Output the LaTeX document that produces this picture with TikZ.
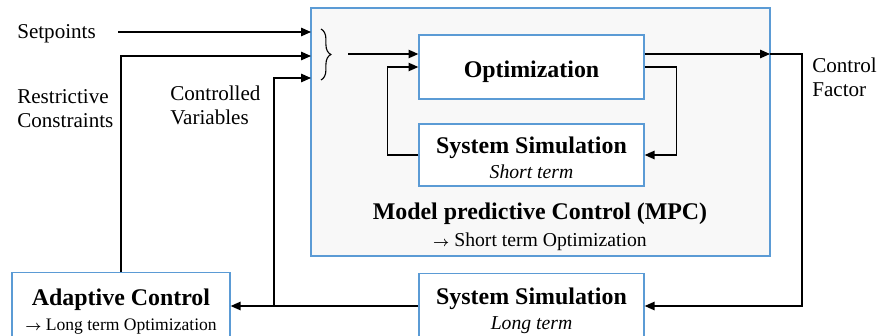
\documentclass[tikz,border=0pt]{standalone}
\usepackage{fontspec}
\setmainfont{Liberation Serif}
\usetikzlibrary{arrows.meta,decorations.pathreplacing}
\definecolor{boxblue}{RGB}{91,155,213}
\definecolor{mpcgray}{RGB}{248,248,248}
\newcommand{\rarr}{{\fontsize{10}{12}\selectfont$\boldsymbol{\rightarrow}$}}
\usepackage{amsmath}
\begin{document}
\begin{tikzpicture}[x=0.025cm,y=-0.025cm,>={Triangle[length=7pt,width=6pt]},
 box/.style={draw=boxblue,fill=white,line width=0.9pt,minimum width=5.625cm,minimum height=1.6cm,align=center,font=\fontsize{14}{18}\selectfont},
 lbl/.style={font=\fontsize{15}{17}\selectfont,align=left,anchor=west,inner sep=0pt},
 arr/.style={->,line width=0.9pt}]
\useasboundingbox (0,0) rectangle (880,335);
% MPC frame
\node[draw=boxblue,fill=mpcgray,line width=0.9pt,minimum width=11.475cm,minimum height=6.2cm] (mpc) at (540.5,132) {};
\node[align=center,font=\fontsize{14}{18}\selectfont] (mpclbl) at (540,227)
 {{\fontsize{17}{18}\selectfont\bfseries Model predictive Control (MPC)}\\[1pt] \rarr\ Short term Optimization};
\node[box] (opt) at (531.5,67) {\rule{0pt}{18.7pt}{\fontsize{17}{18}\selectfont\bfseries Optimization}};
\node[box,minimum height=1.55cm] (simshort) at (531.5,155)
 {\rule{0pt}{15.3pt}{\fontsize{17}{18}\selectfont\bfseries System Simulation}\\ \itshape Short term};
% lower boxes
\node[box,minimum height=1.55cm] (simlong) at (531.5,306)
 {\rule{0pt}{18.7pt}{\fontsize{17}{18}\selectfont\bfseries System Simulation}\\ \itshape Long term};
\node[box,minimum width=5.45cm,minimum height=1.55cm,font=\fontsize{12.5}{18}\selectfont] (adapt) at (121,306)
 {\rule{0pt}{20pt}{\fontsize{17}{18}\selectfont\bfseries Adaptive Control}\\ \rarr\ Long term Optimization};
% labels
\node[lbl] (setp) at (17,34) {Setpoints};
\node[lbl] (restr) at (17,109) {Restrictive\\Constraints};
\node[lbl] (ctrlv) at (170,105) {Controlled\\Variables};
\node[lbl] (ctrlf) at (812,77) {Control\\Factor};
% inputs
\coordinate (in1) at (311,32);
\coordinate (in2) at (311,56);
\coordinate (in3) at (311,78);
\coordinate (cv) at (274,306);
\coordinate (tip) at (348,54);
\coordinate (out) at (770,54);
\coordinate (outr) at (802,54);
\draw[arr] (118,32) -- (in1);
\draw[arr] (adapt.north) |- (in2);
\draw[arr] (cv) |- (in3);
\draw[decorate,decoration={brace,amplitude=7pt},line width=0.8pt] (321,29) -- (321,80);
\draw[arr] (tip) -- (opt.west |- tip);
% loops in the MPC
\draw[arr] (simshort.west) -- ++(-31,0) |- (opt.west);
\draw[arr] (opt.east) -- ++(32,0) |- (simshort.east);
% output and feedback
\draw[arr] (opt.east |- out) -- (out);
\draw[arr] (out) -- (outr) |- (simlong.east);
\draw[arr] (simlong.west) -- (adapt.east);
\end{tikzpicture}
\end{document}
